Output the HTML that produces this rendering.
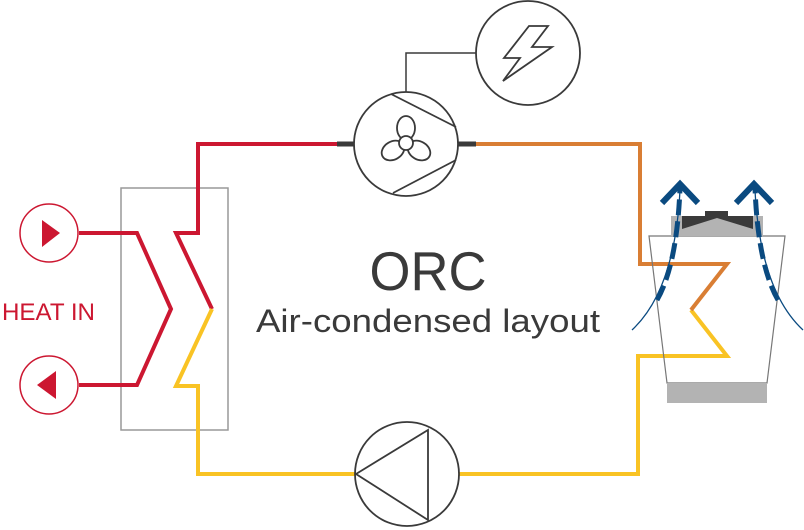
<!DOCTYPE html>
<html><head><style>html,body{margin:0;padding:0;background:#fff}svg{display:block}</style></head>
<body>
<svg width="804" height="530" viewBox="0 0 804 530" xmlns="http://www.w3.org/2000/svg">
<!-- heat exchanger box -->
<rect x="121" y="188" width="107" height="242" fill="none" stroke="#999" stroke-width="1.5"/>
<!-- heat source loop -->
<polyline points="79,233 137,233 171,309 137,385 79,385" fill="none" stroke="#cc1731" stroke-width="4"/>
<circle cx="49" cy="233" r="29" fill="#fff" stroke="#cc1731" stroke-width="1.5"/>
<circle cx="49" cy="385" r="29" fill="#fff" stroke="#cc1731" stroke-width="1.5"/>
<polygon points="42,220 60,233 42,247" fill="#cc1731"/>
<polygon points="56,371 37,385 56,399" fill="#cc1731"/>
<text x="2" y="320" font-family="Liberation Sans, sans-serif" font-size="24" fill="#cc1731" textLength="93" lengthAdjust="spacingAndGlyphs">HEAT IN</text>
<!-- working fluid -->
<polyline points="340,144 198,144 198,233 176,233 212,309" fill="none" stroke="#cc1731" stroke-width="4"/>
<polyline points="212,309 176,386 198,386 198,474 356,474" fill="none" stroke="#f9c324" stroke-width="4"/>
<polyline points="458,474 638,474 638,356 727,356 691,310" fill="none" stroke="#f9c324" stroke-width="4"/>
<polyline points="691,310 727,264 640,264 640,144 476,144" fill="none" stroke="#d97e34" stroke-width="4"/>
<!-- condenser -->
<polygon points="649,236 785,236 767,383 667,383" fill="none" stroke="#777" stroke-width="1.2"/>
<rect x="667" y="383" width="100" height="20" fill="#b3b3b3"/>
<rect x="671" y="216" width="92" height="20" fill="#b3b3b3"/>
<polygon points="682,216 753,216 753,229 717,218 682,229" fill="#3a3a3a"/>
<rect x="705" y="211" width="23" height="6" fill="#3a3a3a"/>
<!-- airflow arrows -->
<path d="M632,330 Q675,290 680,190" fill="none" stroke="#0a4a80" stroke-width="1.3"/>
<path d="M657,300 Q677,265 680,188" fill="none" stroke="#0a4a80" stroke-width="5" stroke-dasharray="16,6"/>
<path d="M803,330 Q760,290 755,190" fill="none" stroke="#0a4a80" stroke-width="1.3"/>
<path d="M778,300 Q758,265 755,188" fill="none" stroke="#0a4a80" stroke-width="5" stroke-dasharray="16,6"/>
<polyline points="662,203 680,184 698,203" fill="none" stroke="#0a4a80" stroke-width="6"/>
<polyline points="736,203 754,184 772,203" fill="none" stroke="#0a4a80" stroke-width="6"/>
<!-- compressor/turbine -->
<line x1="337" y1="144" x2="356" y2="144" stroke="#3a3a3a" stroke-width="5"/>
<line x1="456" y1="144" x2="476" y2="144" stroke="#3a3a3a" stroke-width="5"/>
<polyline points="406,92 406,53 476,53" fill="none" stroke="#3a3a3a" stroke-width="1.5"/>
<circle cx="406" cy="144" r="52" fill="#fff" stroke="#3a3a3a" stroke-width="1.8"/>
<line x1="391" y1="94" x2="456" y2="127" stroke="#3a3a3a" stroke-width="1.8"/>
<line x1="393" y1="193" x2="456" y2="160" stroke="#3a3a3a" stroke-width="1.8"/>
<g fill="#fff" stroke="#3a3a3a" stroke-width="1.8">
<ellipse cx="406" cy="128" rx="9" ry="12"/>
<ellipse cx="406" cy="128" rx="9" ry="12" transform="rotate(120 406 143)"/>
<ellipse cx="406" cy="128" rx="9" ry="12" transform="rotate(240 406 143)"/>
<circle cx="406" cy="143" r="7"/>
</g>
<!-- power -->
<circle cx="528" cy="53" r="52" fill="#fff" stroke="#3a3a3a" stroke-width="1.8"/>
<polygon points="529,26 548,26 532,47 552,47 503,81 520,58 504,58" fill="none" stroke="#3a3a3a" stroke-width="1.8"/>
<!-- pump -->
<circle cx="407" cy="474" r="52" fill="#fff" stroke="#3a3a3a" stroke-width="1.8"/>
<polygon points="356,474 428,430 428,520" fill="none" stroke="#3a3a3a" stroke-width="1.8"/>
<!-- text -->
<text x="428" y="290" text-anchor="middle" font-family="Liberation Sans, sans-serif" font-size="55" fill="#3a3a3a" textLength="117" lengthAdjust="spacingAndGlyphs">ORC</text>
<text x="256" y="332" font-family="Liberation Sans, sans-serif" font-size="32" fill="#3a3a3a" textLength="344" lengthAdjust="spacingAndGlyphs">Air-condensed layout</text>
</svg>
</body></html>
